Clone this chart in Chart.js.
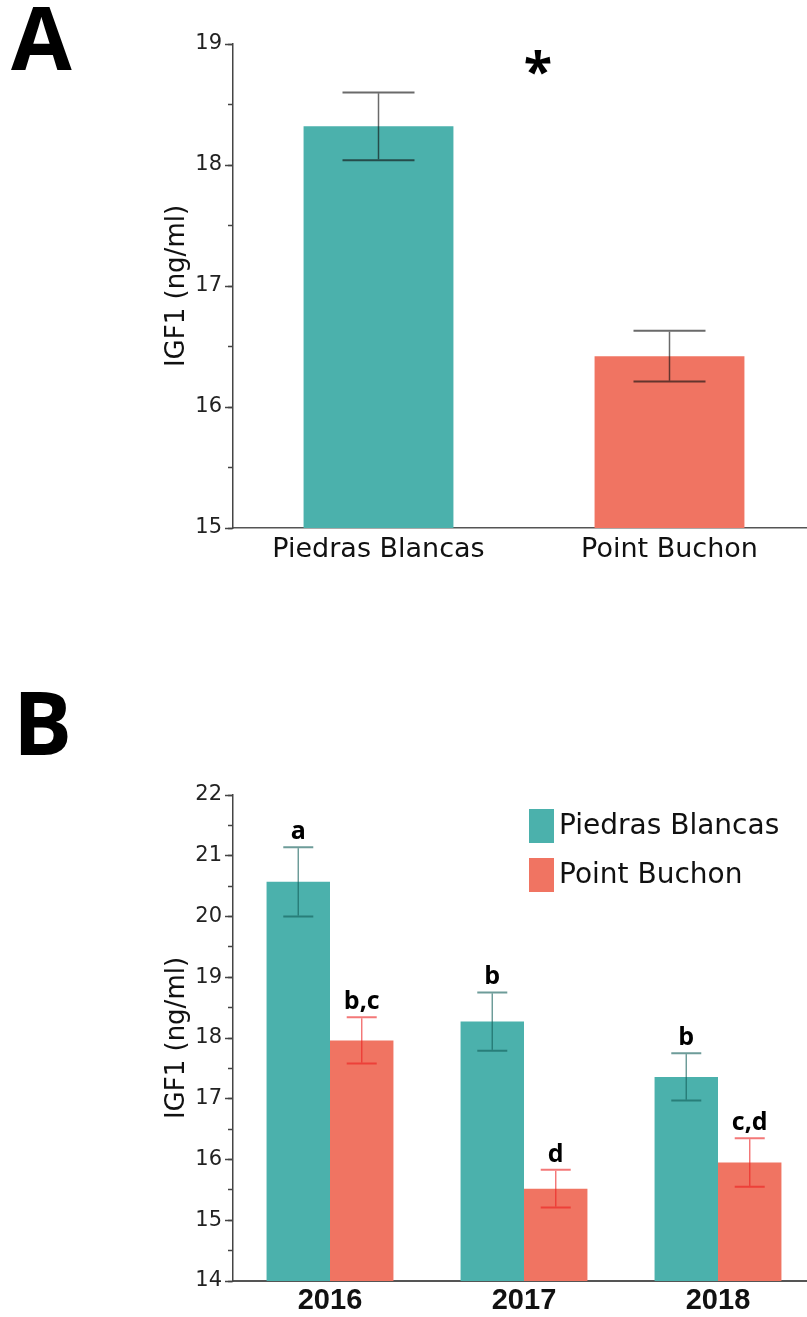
<!DOCTYPE html>
<html>
<head>
<meta charset="utf-8">
<script src="https://cdn.jsdelivr.net/npm/chart.js@4.4.1/dist/chart.umd.min.js"></script>
<style>
  html, body { margin: 0; padding: 0; background: #fff; overflow: hidden; width: 807px; height: 1317px; }
  canvas { position: absolute; left: 0; }
</style>
</head>
<body>
<canvas id="chartA" width="820" height="600" style="top:0"></canvas>
<canvas id="chartB" width="820" height="657" style="top:660px"></canvas>
<script>
// ---- Panel A: IGF1 by site ----
const sites = ['Piedras Blancas', 'Point Buchon'];
const siteMeans = [18.32, 16.42];
const siteSE = [0.28, 0.21];
const rangeA = [15, 19];

// ---- Panel B: IGF1 by year and site ----
const years = ['2016', '2017', '2018'];
const blancasMeans = [20.57, 18.27, 17.36];
const blancasSE = [0.57, 0.48, 0.39];
const buchonMeans = [17.96, 15.52, 15.95];
const buchonSE = [0.38, 0.31, 0.40];
const blancasGroups = ['a', 'b', 'b'];
const buchonGroups = ['b,c', 'd', 'c,d'];
const rangeB = [14, 22];

const TEAL = '#4bb1ac';
const SALMON = '#f07462';
const AXIS = '#444';

// mean ± SE whiskers, plus optional significance letters above them
const errorBars = {
  id: 'errorBars',
  afterDatasetsDraw(chart, args, opts) {
    const ctx = chart.ctx;
    const y = chart.scales.y;
    chart.data.datasets.forEach((ds, i) => {
      const meta = chart.getDatasetMeta(i);
      meta.data.forEach((bar, j) => {
        const m = ds.data[j], e = ds.errors[j];
        const yTop = y.getPixelForValue(m + e);
        const yBot = y.getPixelForValue(m - e);
        const x = bar.x, half = opts.capWidth / 2;
        ctx.save();
        ctx.strokeStyle = ds.errorColor;
        ctx.lineWidth = 1.5;
        ctx.beginPath();
        ctx.moveTo(x, yTop + 1);
        ctx.lineTo(x, yBot - 1);
        ctx.stroke();
        ctx.lineWidth = 2;
        ctx.beginPath();
        ctx.moveTo(x - half, yTop); ctx.lineTo(x + half, yTop);
        ctx.moveTo(x - half, yBot); ctx.lineTo(x + half, yBot);
        ctx.stroke();
        if (ds.groups) {
          ctx.fillStyle = '#000';
          ctx.font = 'bold 25px "Open Sans"';
          ctx.textAlign = 'center';
          ctx.textBaseline = 'alphabetic';
          ctx.fillText(ds.groups[j], x, yTop - 8);
        }
        ctx.restore();
      });
    });
  }
};

// panel letter and extra annotations
const panelText = {
  id: 'panelText',
  afterDraw(chart, args, opts) {
    const ctx = chart.ctx;
    ctx.save();
    ctx.fillStyle = '#000';
    ctx.textAlign = 'left';
    ctx.textBaseline = 'alphabetic';
    ctx.font = 'bold 88px "Open Sans"';
    ctx.fillText(opts.letter, opts.x, opts.y);
    if (opts.star) {
      ctx.textAlign = 'center';
      ctx.font = 'bold 52px "Open Sans"';
      const sx = chart.scales.x.getPixelForValue(0.5) + 14;
      ctx.fillText('*', sx, 90);
    }
    ctx.restore();
  }
};

// legend drawn inside the plot area, top right
const insideLegend = {
  id: 'insideLegend',
  afterDraw(chart, args, opts) {
    if (!opts.show) return;
    const ctx = chart.ctx;
    const area = chart.chartArea;
    ctx.save();
    ctx.font = '28px "DejaVu Sans"';
    ctx.textAlign = 'left';
    ctx.textBaseline = 'middle';
    chart.data.datasets.forEach((ds, i) => {
      const top = area.top + 14 + i * 49;
      const left = area.right - 286;
      ctx.fillStyle = ds.backgroundColor;
      ctx.fillRect(left, top, 25, 34);
      ctx.fillStyle = '#111';
      ctx.fillText(ds.label, left + 30, top + 18);
    });
    ctx.restore();
  }
};

function yScales(range) {
  return {
    y: {
      position: 'left',
      weight: 1,
      min: range[0], max: range[1],
      ticks: { stepSize: 1, padding: 3, color: '#222', font: { family: 'DejaVu Sans', size: 21 } },
      grid: { drawOnChartArea: false, drawTicks: true, tickLength: 8, color: AXIS, tickWidth: 1.5 },
      border: { display: false },
      title: {
        display: true, text: 'IGF1 (ng/ml)', color: '#111',
        font: { family: 'DejaVu Sans', size: 26 },
        padding: { top: 162, bottom: 0 }
      },
      afterFit(s) { s.width = 233; }
    },
    yMinor: {
      position: 'left',
      weight: 0,
      min: range[0], max: range[1],
      ticks: { display: false, stepSize: 0.5, autoSkip: false },
      grid: { drawOnChartArea: false, drawTicks: true, tickLength: 5, color: AXIS, tickWidth: 1.5 },
      border: { display: true, color: AXIS, width: 1.5 },
      afterFit(s) { s.width = 0; }
    }
  };
}

new Chart(document.getElementById('chartA'), {
  type: 'bar',
  data: {
    labels: sites,
    datasets: [{
      label: 'IGF1',
      data: siteMeans,
      errors: siteSE,
      errorColor: 'rgba(15,15,15,0.62)',
      backgroundColor: [TEAL, SALMON],
      categoryPercentage: 0.515,
      barPercentage: 1
    }]
  },
  options: {
    responsive: false,
    animation: false,
    layout: { padding: { top: 44, right: 5, left: 0, bottom: 0 } },
    scales: Object.assign({
      x: {
        grid: { display: false, drawTicks: false },
        border: { display: true, color: '#555', width: 1.5 },
        ticks: { padding: 6, color: '#111', font: { family: 'DejaVu Sans', size: 27 } },
        afterFit(s) { s.height = 72; }
      }
    }, yScales(rangeA)),
    plugins: {
      legend: { display: false },
      tooltip: { enabled: false },
      errorBars: { capWidth: 72 },
      panelText: { letter: 'A', x: 11, y: 70, star: true },
      insideLegend: { show: false }
    }
  },
  plugins: [errorBars, panelText, insideLegend]
});

new Chart(document.getElementById('chartB'), {
  type: 'bar',
  data: {
    labels: years,
    datasets: [{
      label: 'Piedras Blancas',
      data: blancasMeans,
      errors: blancasSE,
      groups: blancasGroups,
      errorColor: 'rgba(20,95,90,0.62)',
      backgroundColor: TEAL,
      categoryPercentage: 0.654,
      barPercentage: 1
    }, {
      label: 'Point Buchon',
      data: buchonMeans,
      errors: buchonSE,
      groups: buchonGroups,
      errorColor: 'rgba(235,30,30,0.6)',
      backgroundColor: SALMON,
      categoryPercentage: 0.654,
      barPercentage: 1
    }]
  },
  options: {
    responsive: false,
    animation: false,
    layout: { padding: { top: 135, right: 5, left: 0, bottom: 0 } },
    scales: Object.assign({
      x: {
        grid: { display: false, drawTicks: false },
        border: { display: true, color: '#555', width: 2 },
        ticks: { padding: 3, color: '#111', font: { family: 'Liberation Sans', size: 29, weight: 'bold' } },
        afterFit(s) { s.height = 36; }
      }
    }, yScales(rangeB)),
    plugins: {
      legend: { display: false },
      tooltip: { enabled: false },
      errorBars: { capWidth: 30 },
      panelText: { letter: 'B', x: 13, y: 95, star: false },
      insideLegend: { show: true }
    }
  },
  plugins: [errorBars, panelText, insideLegend]
});
</script>
</body>
</html>
